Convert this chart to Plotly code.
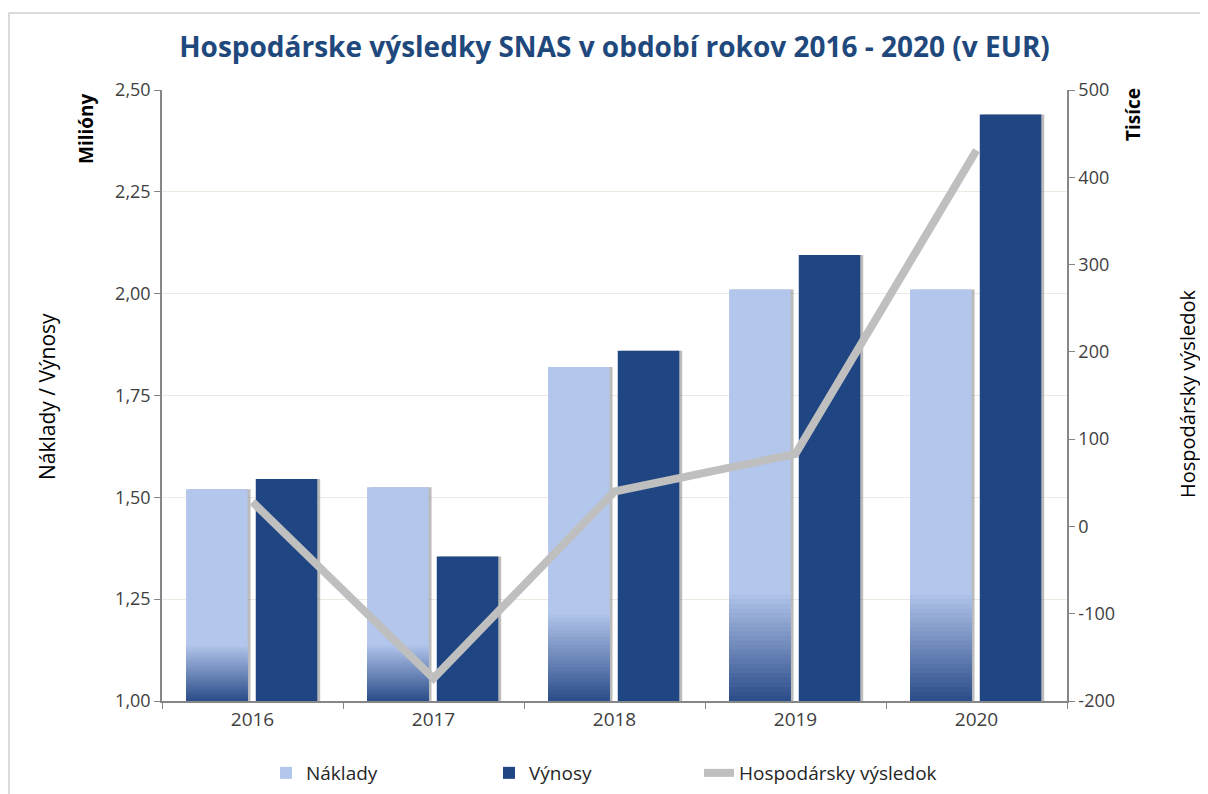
import plotly.graph_objects as go

# ---- data ----
years = ["2016", "2017", "2018", "2019", "2020"]
naklady = [1.52, 1.525, 1.82, 2.01, 2.01]          # milióny EUR
vynosy = [1.545, 1.355, 1.86, 2.095, 2.44]          # milióny EUR
vysledok = [28, -174, 40, 83, 431]                  # tisíce EUR
left_tickvals = [1.00, 1.25, 1.50, 1.75, 2.00, 2.25, 2.50]
left_ticktext = ["1,00", "1,25", "1,50", "1,75", "2,00", "2,25", "2,50"]
right_tickvals = [-200, -100, 0, 100, 200, 300, 400, 500]
right_ticktext = ["-200", "-100", "0", "100", "200", "300", "400", "500"]

AXIS_MIN = 1.0
FONT = "Open Sans"
LIGHT = (179, 198, 236)
DARK = (40, 74, 135)
NAVY = "#1f4682"

off_n, off_v, bw = -0.367, 0.018, 0.34

# page body has an 8px margin -> figure coordinates = screen coordinates - 8
SH = 8
PL, PR, PT, PB = 162 - SH, 1067 - SH, 90 - SH, 701 - SH   # plot area in figure px
PW, PHt = PR - PL, PB - PT


def px(xs):  # screen x -> paper
    return (xs - SH - PL) / PW


def py(ys):  # screen y -> paper
    return (PB - (ys - SH)) / PHt


fig = go.Figure()

# shadows
for vals, off in ((naklady, off_n), (vynosy, off_v)):
    fig.add_trace(go.Bar(
        x=years, y=[v - AXIS_MIN for v in vals], base=AXIS_MIN,
        offset=off + 0.016, width=bw, marker=dict(color="rgba(120,120,120,0.5)", line=dict(width=0)),
        showlegend=False, hoverinfo="skip"))

# Náklady main bar
fig.add_trace(go.Bar(
    x=years, y=[v - AXIS_MIN for v in naklady], base=AXIS_MIN, name="Náklady",
    offset=off_n, width=bw, legend="legend",
    marker=dict(color="rgb(%d,%d,%d)" % LIGHT, line=dict(width=0))))

# gradient at the bottom of Náklady bars (nested bars, light to dark)
N = 24
frac = 0.27
for i in range(N):
    t = 1 - i / N
    c = tuple(int(DARK[k] + (LIGHT[k] - DARK[k]) * t) for k in range(3))
    fig.add_trace(go.Bar(
        x=years, y=[(v - AXIS_MIN) * frac * t for v in naklady], base=AXIS_MIN,
        offset=off_n, width=bw,
        marker=dict(color="rgb(%d,%d,%d)" % c, line=dict(width=0)),
        showlegend=False, hoverinfo="skip"))

# Výnosy
fig.add_trace(go.Bar(
    x=years, y=[v - AXIS_MIN for v in vynosy], base=AXIS_MIN, name="Výnosy",
    offset=off_v, width=bw, legend="legend2",
    marker=dict(color=NAVY, line=dict(width=0))))

# Hospodársky výsledok
fig.add_trace(go.Scatter(
    x=years, y=vysledok, yaxis="y2", mode="lines", name="Hospodársky výsledok",
    legend="legend3", line=dict(color="#bfbfbf", width=8)))

leg_common = dict(orientation="h", xanchor="left", y=py(773), yanchor="middle",
                  font=dict(size=19, color="#262626"), bgcolor="rgba(0,0,0,0)")

fig.update_layout(
    width=1208, height=794,
    paper_bgcolor="white", plot_bgcolor="white",
    barmode="overlay",
    margin=dict(l=PL, r=1208 - PR, t=PT, b=794 - PB, autoexpand=False),
    font=dict(family=FONT, color="#404040", size=18),
    title=dict(text="<b>Hospodárske výsledky SNAS v období rokov 2016 - 2020 (v EUR)</b>",
               x=0.5, xref="paper", xanchor="center", y=1 - (47 - SH) / 794, yanchor="middle",
               font=dict(family=FONT, size=28, color="#1f497d")),
    xaxis=dict(type="category", showline=True, linecolor="#868686", linewidth=1.5,
               ticks="outside", tickson="boundaries", ticklen=6, tickcolor="#868686",
               tickfont=dict(size=19, color="#404040"), showgrid=False, zeroline=False),
    yaxis=dict(range=[1.0, 2.5], tickvals=left_tickvals, ticktext=left_ticktext,
               showline=True, linecolor="#868686", linewidth=1.5, ticks="outside",
               ticklen=6, tickcolor="#868686", showgrid=True, gridcolor="#ece9e1",
               zeroline=False, tickfont=dict(size=18, color="#404040")),
    yaxis2=dict(range=[-200, 500], tickvals=right_tickvals, ticktext=right_ticktext,
                overlaying="y", side="right", showline=True, linecolor="#868686",
                linewidth=1.5, ticks="outside", ticklen=6, tickcolor="#868686",
                showgrid=False, zeroline=False, tickfont=dict(size=18, color="#404040")),
    legend=dict(x=px(266), **leg_common),
    legend2=dict(x=px(489), **leg_common),
    legend3=dict(x=px(699), **leg_common),
    showlegend=True,
)

# annotations: axis titles
fig.add_annotation(text="<b>Milióny</b>", textangle=-90, xref="paper", yref="paper",
                   x=px(86), y=py(129), showarrow=False,
                   xanchor="center", yanchor="middle",
                   font=dict(size=19, color="#000000"))
fig.add_annotation(text="<b>Tisíce</b>", textangle=-90, xref="paper", yref="paper",
                   x=px(1133), y=py(115), showarrow=False,
                   xanchor="center", yanchor="middle",
                   font=dict(size=19, color="#000000"))
fig.add_annotation(text="Náklady / Výnosy", textangle=-90, xref="paper", yref="paper",
                   x=px(47), y=py(396), showarrow=False,
                   xanchor="center", yanchor="middle",
                   font=dict(size=21, color="#000000"))
fig.add_annotation(text="Hospodársky výsledok", textangle=-90, xref="paper", yref="paper",
                   x=px(1187), y=py(394), showarrow=False,
                   xanchor="center", yanchor="middle",
                   font=dict(size=20, color="#000000"))

# outer chart frame (top edge visible within the page)
fig.add_shape(type="rect", xref="paper", yref="paper",
              x0=px(9), x1=px(1230), y0=py(820), y1=py(13),
              line=dict(color="#d0d0d0", width=1.5), layer="below")

fig.write_html("out.html")
